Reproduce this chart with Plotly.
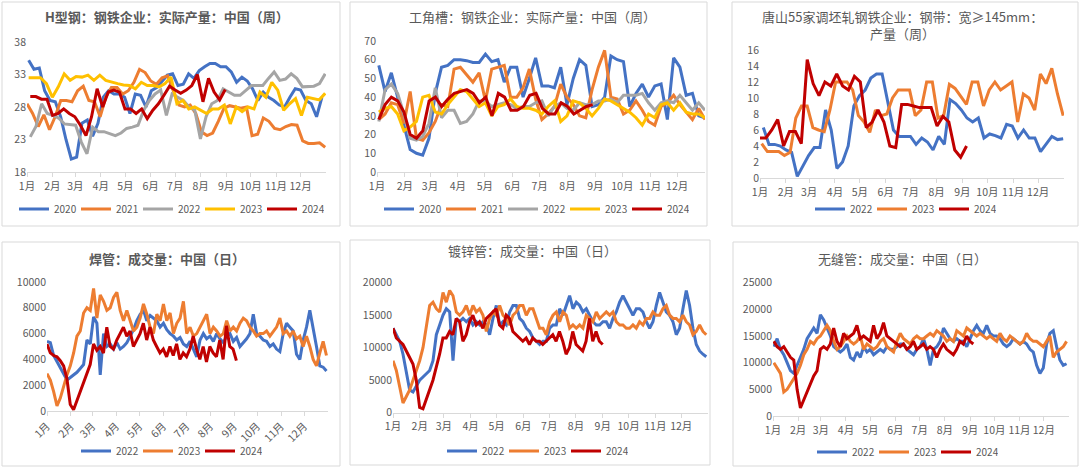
import plotly.graph_objects as go

W, H = 1080, 468
FONT = "Noto Sans CJK SC, Noto Sans, sans-serif"
TXT = "#595959"
C_BLUE, C_ORANGE, C_GRAY, C_YELLOW, C_RED = "#4472C4", "#ED7D31", "#A5A5A5", "#FFC000", "#C00000"

MONTH_START = [1, 32, 60, 91, 121, 152, 182, 213, 244, 274, 305, 335]
MONTH_LABELS = ["1月", "2月", "3月", "4月", "5月", "6月", "7月", "8月", "9月", "10月", "11月", "12月"]

# ---------------- H型钢 (weekly) ----------------
h_2020 = [35.2, 33.8, 34.0, 30.5, 29.0, 28.8, 26.5, 23.0, 20.0, 20.3, 25.5, 26.0, 23.5, 25.5, 29.5, 30.5, 30.0, 30.0,
          29.5, 27.0, 30.0, 29.8, 28.0, 30.5, 31.0, 32.0, 32.9, 33.1, 31.3, 31.5, 33.1, 32.4, 33.6, 34.2, 34.7, 34.7,
          34.2, 34.2, 33.4, 31.8, 32.6, 32.0, 30.8, 29.0, 30.3, 29.5, 29.0, 28.3, 28.0, 29.5, 30.8, 30.6, 29.0, 28.5,
          26.5, 29.5]
h_2021 = [28.5, 27.0, 25.0, 26.8, 24.5, 26.5, 29.0, 29.0, 28.8, 30.5, 31.2, 29.0, 28.8, 26.5, 29.5, 31.0, 31.0, 30.0,
          30.5, 31.8, 33.8, 33.3, 32.0, 31.5, 32.5, 32.8, 30.5, 28.3, 28.0, 28.3, 27.0, 24.2, 23.6, 24.0, 25.8, 27.8,
          28.2, 28.0, 27.8, 28.0, 23.6, 23.8, 26.3, 25.8, 24.7, 24.5, 25.0, 25.3, 25.2, 22.8, 22.4, 22.4, 22.5, 21.8]
h_2022 = [23.4, 25.0, 28.5, 27.0, 26.7, 26.3, 25.4, 25.3, 25.2, 22.6, 20.8, 24.9, 24.2, 24.2, 23.9, 23.6, 24.0, 24.7,
          24.9, 25.2, 27.5, 29.0, 30.0, 30.6, 26.7, 30.0, 29.5, 29.0, 28.0, 27.5, 23.1, 26.5, 28.5, 29.0, 30.8, 30.3,
          29.8, 29.8, 30.6, 31.3, 31.3, 31.3, 32.4, 33.4, 32.1, 32.3, 33.1, 32.4, 31.1, 31.1, 31.2, 31.6, 33.1]
h_2023 = [32.5, 32.5, 32.5, 31.6, 29.5, 31.1, 33.1, 32.1, 32.7, 32.6, 32.9, 32.1, 32.9, 32.1, 31.8, 31.6, 31.4, 31.3,
          30.8, 31.8, 31.3, 31.3, 31.1, 31.6, 32.6, 28.5, 29.0, 27.7, 28.0, 27.5, 27.0, 27.7, 27.7, 28.3, 25.4, 28.0,
          27.3, 28.0, 27.7, 30.3, 29.5, 31.8, 30.6, 27.5, 28.5, 29.3, 26.7, 29.5, 29.3, 29.1, 30.1]
h_2024 = [29.6, 29.6, 29.2, 29.2, 26.7, 27.0, 27.7, 27.0, 26.5, 25.2, 23.6, 26.5, 30.8, 28.0, 30.3, 30.6, 30.3, 27.7,
          27.7, 27.0, 27.7, 26.2, 27.5, 28.5, 29.8, 31.2, 30.6, 30.1, 30.6, 31.3, 33.0, 28.8, 32.4, 30.3, 29.1, 30.7]
h_spans = {"2020": (3, 361), "2021": (1, 365), "2022": (5, 365), "2023": (3, 365), "2024": (5, 243)}

# ---------------- 工角槽 (weekly) ----------------
g_2020 = [57, 43, 53, 40, 25, 12, 10, 9, 18, 42, 56, 57, 60, 60, 59.5, 58.5, 58.5, 63, 59, 60, 48, 56, 56, 40, 50, 61,
          46, 46, 45, 56, 36, 50, 60, 57, 35, 36, 40, 62, 60, 59, 35, 42, 47, 40, 46, 47, 28, 61, 56, 41, 42, 30, 29]
g_2021 = [28, 31, 37, 36, 26, 43, 18, 17, 21, 27, 36, 35, 55, 56, 52, 48, 53, 38, 55, 56, 57, 40, 40, 45, 55, 39, 28,
          31, 35, 47, 40, 36, 30, 29, 44, 56, 65, 40, 39, 31, 33, 38, 33, 27, 25, 35, 37, 41, 36, 32, 28, 34, 28]
g_2022 = [27, 44, 47, 42, 31, 18, 17, 19, 26, 45, 29, 33, 33, 26, 27, 31, 38, 38, 35, 36, 37, 36, 34, 35, 35, 37, 38,
          30, 35, 37, 34, 33, 37, 36, 36, 38, 38, 39, 37, 41, 41, 41, 42, 37, 33, 37, 38, 37, 41, 37, 33, 37, 33]
g_2023 = [32, 34, 35, 31, 22, 24, 27, 40, 41, 32, 31, 36, 40, 44, 43, 39, 35, 37, 30, 35, 36, 39, 35, 34, 34, 33, 31,
          35, 38, 27, 30, 38, 37, 34, 30, 34, 39, 38, 36, 34, 32, 29, 25, 31, 29, 36, 37, 33, 37, 32, 31, 31, 29]
g_2024 = [28, 36, 40, 38, 32, 20, 18, 22, 38, 40, 35, 39, 42, 43, 44, 42, 37, 40, 30, 42, 40, 33, 33, 35, 41, 42, 34,
          31, 31, 37, 35, 31, 33, 35, 36]
g_spans = {"2020": (3, 366), "2021": (3, 366), "2022": (3, 366), "2023": (3, 366), "2024": (3, 241)}

# ---------------- 唐山55家 钢带 (weekly) ----------------
t_2022 = [6.3, 4.2, 4.2, 4.0, 3.5, 3.2, 0.2, 1.5, 2.8, 3.8, 3.8, 8.5, 6.0, 1.2, 2.0, 4.0, 9.0, 10.3, 11.0, 12.5, 13.0,
          13.0, 9.5, 6.0, 5.2, 5.2, 5.2, 4.2, 5.0, 4.5, 3.5, 5.2, 4.2, 9.8, 9.3, 8.5, 7.5, 7.0, 7.5, 5.0, 5.5, 5.3, 5.0,
          6.7, 6.5, 5.0, 6.0, 5.0, 5.0, 3.3, 4.2, 5.2, 4.8, 4.9]
t_2023 = [4.3, 3.3, 3.3, 3.3, 2.8, 3.2, 7.5, 9.0, 9.0, 6.3, 6.0, 5.8, 8.5, 12.0, 12.0, 12.0, 11.0, 7.8, 7.0, 5.7, 8.5,
          7.8, 8.0, 10.0, 11.0, 11.0, 11.0, 7.8, 8.5, 12.0, 12.0, 7.5, 7.8, 11.7, 11.2, 10.2, 9.2, 12.0, 12.0, 9.0, 11.0,
          12.0, 11.0, 11.5, 12.0, 7.0, 10.5, 10.0, 8.5, 13.0, 11.8, 13.7, 10.5, 7.8]
t_2024 = [5.0, 5.0, 6.0, 7.3, 4.0, 5.8, 5.8, 4.3, 14.8, 11.8, 10.3, 12.0, 11.5, 13.0, 11.5, 11.0, 12.7, 12.0, 6.3, 7.0,
          8.5, 7.0, 4.0, 3.8, 9.2, 9.2, 9.0, 8.8, 8.8, 8.8, 6.5, 7.7, 7.0, 3.5, 2.6, 4.0]
t_spans = {"2022": (5, 365), "2023": (3, 365), "2024": (1, 249)}

# ---------------- 焊管 成交量 (daily) ----------------
w_2022 = [5400, 5300, 4300, 3800, 3300, 2800, 2400, 2600, 2800, 3000, 3300, 3600, 5500, 5200, 7300, 6800, 2800, 6000,
          5000, 5200, 4800, 5300, 4800, 5000, 5300, 5800, 6300, 7000, 7500, 7800, 7000, 7400, 7200, 7000, 6500, 6800,
          6300, 6000, 5800, 5500, 5700, 5200, 5000, 5400, 4800, 4200, 5500, 6000, 5600, 5800, 5400, 6000, 5600, 5300,
          5800, 6000, 5400, 5700, 5000, 5300, 5600, 6000, 7500, 6000, 5800, 5500, 5400, 5000, 5200, 4800, 4600, 6000,
          6800, 6500, 6200, 4400, 4000, 5500, 6500, 7800, 6500, 5000, 3500, 3400, 3100]
w_2023 = [2900, 2400, 1500, 400, 1000, 2000, 2800, 3500, 4500, 5800, 6200, 7600, 8000, 7800, 9500, 7200, 9000, 8500,
          7800, 8000, 8800, 9200, 7800, 7000, 7800, 7000, 6200, 6500, 7200, 8300, 7500, 6500, 6000, 7500, 7000, 8300,
          7000, 7600, 6000, 6800, 7200, 8500, 6000, 6500, 5800, 6000, 6500, 7000, 7500, 6000, 6500, 6200, 5800, 6000,
          7000, 6200, 6500, 6200, 6800, 7200, 7000, 6500, 6200, 5800, 6000, 6000, 6200, 5800, 6200, 6500, 7200, 6000,
          6200, 5800, 6200, 5600, 5800, 5000, 5800, 5000, 4000, 3500, 4500, 5400, 4300]
w_2024 = [5200, 4500, 4300, 4200, 3900, 3500, 2500, 500, 100, 800, 1500, 2300, 3000, 3600, 5200, 4700, 5000, 4500,
          6500, 5000, 4800, 5500, 6000, 6500, 5800, 6200, 5000, 5500, 6000, 6800, 5500, 6500, 5500, 5000, 4500, 4800,
          4200, 5000, 4300, 5200, 4000, 4500, 4200, 4800, 5800, 4800, 4000, 5000, 3800, 5000, 4500, 4200, 5500, 4000,
          6600, 5000, 4800, 3900]
w_spans = {"2022": (1, 364), "2023": (1, 364), "2024": (1, 247)}

# ---------------- 镀锌管 成交量 (daily) ----------------
z_2022 = [13000, 12000, 11000, 9000, 6000, 3500, 3200, 4200, 5000, 5500, 6000, 6500, 8000, 12000, 13500, 15000, 16000,
          15500, 8000, 14500, 14000, 14500, 14000, 14500, 13500, 14000, 13500, 14000, 13500, 12000, 14500, 16500, 13500,
          14000, 13500, 15500, 16500, 16500, 14500, 14000, 13000, 12500, 11500, 11000, 10500, 11000, 11000, 13000,
          13500, 13500, 16000, 15000, 16500, 18000, 16000, 17000, 16500, 15500, 16000, 15000, 14000, 13500, 13500,
          14000, 14000, 13000, 14500, 15500, 17000, 18000, 17000, 16000, 15000, 16000, 16000, 15500, 14000, 13000,
          14000, 16500, 18500, 17000, 15500, 15000, 14000, 12000, 13000, 16000, 18800, 16500, 13000, 10500, 9500,
          9000, 8600]
z_2023 = [8000, 6500, 4000, 1500, 2500, 3500, 5000, 6500, 8000, 10000, 13500, 16500, 17000, 16000, 15500, 18500,
          17000, 18800, 18000, 15500, 15000, 15500, 16500, 15000, 16500, 15500, 16000, 15000, 12500, 14500, 15500,
          15000, 16500, 15000, 14500, 13500, 15000, 15500, 16500, 16500, 15000, 16000, 16000, 14500, 13000, 13000,
          12000, 14000, 15000, 15500, 14000, 15500, 15000, 13000, 13500, 13000, 13500, 13000, 15000, 14500, 14000,
          15500, 14500, 15000, 15500, 15000, 15500, 14000, 13500, 13500, 13000, 13000, 13500, 13000, 14000, 13500,
          14500, 14500, 15500, 15000, 15000, 16000, 16500, 15000, 14500, 14500, 14000, 15000, 14000, 13500, 12000,
          12500, 13500, 12500, 12000]
z_2024 = [13000, 11500, 11000, 10500, 9500, 8500, 7500, 5000, 800, 600, 2000, 3500, 5000, 7000, 9000, 11500, 11500,
          12500, 12000, 14500, 14000, 11000, 12000, 14000, 15000, 13500, 14000, 13000, 14500, 15000, 15500, 16000,
          13500, 13000, 15000, 14500, 12500, 12000, 11500, 11000, 11500, 10500, 11500, 11000, 11000, 10500, 11000,
          11500, 12000, 11000, 12500, 11000, 9000, 10000, 12500, 10500, 10000, 9500, 11000, 14500, 11000, 12500,
          11000, 10500]
z_spans = {"2022": (1, 364), "2023": (1, 364), "2024": (1, 244)}

# ---------------- 无缝管 成交量 (daily) ----------------
s_2022 = [13000, 14500, 12500, 11500, 10000, 8500, 8000, 9500, 11000, 12500, 14500, 15500, 16500, 15500, 19000, 18000,
          16500, 15000, 13000, 12500, 12000, 12500, 13500, 11000, 10500, 12000, 11000, 13000, 12000, 12500, 11500,
          12000, 12500, 12000, 13000, 12500, 12500, 13000, 13500, 13500, 12500, 12000, 11500, 12500, 13000, 14500,
          12500, 9500, 12500, 13000, 14000, 16500, 15500, 14500, 14000, 14500, 14000, 14000, 13000, 14500, 16000,
          17000, 16000, 15500, 17000, 15500, 15000, 15000, 14500, 13500, 13000, 13500, 14500, 14000, 13500, 14000,
          13500, 12500, 12000, 9500, 8000, 9000, 13500, 15500, 16000, 13000, 10500, 9500, 9800]
s_2023 = [10000, 9000, 8000, 4500, 5000, 6000, 7000, 8000, 9500, 11500, 12500, 14000, 13500, 14500, 15000, 16000, 17000,
          16000, 14000, 12500, 13000, 14000, 15000, 14000, 13500, 14000, 15000, 12500, 13500, 13000, 12500, 13000,
          14000, 14500, 13000, 12500, 12000, 14000, 15500, 14500, 14000, 13500, 14500, 15000, 14500, 14500, 15000,
          15500, 15000, 16000, 15500, 15000, 14000, 14500, 14000, 16000, 15500, 15000, 16500, 16000, 15500, 15000,
          15500, 15000, 14500, 15000, 14500, 14000, 15500, 14500, 14000, 15000, 14500, 14000, 13500, 14000, 15500,
          14500, 14000, 14000, 13500, 13000, 14000, 15000, 11000, 12000, 12500, 13000, 14000]
s_2024 = [14000, 13000, 12500, 13000, 12000, 11000, 10500, 5000, 1500, 3000, 4500, 6000, 7500, 8500, 12500, 13000,
          12500, 13500, 16500, 14000, 13000, 15500, 14500, 15000, 15500, 17000, 14500, 15000, 14500, 14000, 17000,
          14500, 15500, 17500, 15000, 14500, 14000, 13500, 13000, 13500, 12500, 13000, 14000, 12500, 13000, 13500,
          12500, 13000, 12500, 11000, 12500, 13500, 12500, 12000, 11500, 12500, 14000, 13500, 15000, 14000, 13500]
s_spans = {"2022": (2, 363), "2023": (2, 363), "2024": (2, 248)}


def days(span, n):
    a, b = span
    step = (b - a) / (n - 1)
    return [a + i * step for i in range(n)]


def fx(p):
    return p / W


def fy(p):
    return 1 - p / H


panels = [
    dict(title="<b>H型钢：钢铁企业：实际产量：中国（周）</b>", tpos=(167, 17), box=(2, 2, 340, 226),
         xpx=(27, 326), ypx=(42, 172), yr=(18, 38), yt=[18, 23, 28, 33, 38], leg=(169, 209), angle=0,
         series=[("2020", C_BLUE, h_2020, h_spans["2020"]), ("2021", C_ORANGE, h_2021, h_spans["2021"]),
                 ("2022", C_GRAY, h_2022, h_spans["2022"]), ("2023", C_YELLOW, h_2023, h_spans["2023"]),
                 ("2024", C_RED, h_2024, h_spans["2024"])]),
    dict(title="工角槽：钢铁企业：实际产量：中国（周）", tpos=(532, 17), box=(350, 2, 707, 226),
         xpx=(377, 705), ypx=(41, 172), yr=(0, 70), yt=[0, 10, 20, 30, 40, 50, 60, 70], leg=(534, 209), angle=0,
         series=[("2020", C_BLUE, g_2020, g_spans["2020"]), ("2021", C_ORANGE, g_2021, g_spans["2021"]),
                 ("2022", C_GRAY, g_2022, g_spans["2022"]), ("2023", C_YELLOW, g_2023, g_spans["2023"]),
                 ("2024", C_RED, g_2024, g_spans["2024"])]),
    dict(title="唐山55家调坯轧钢铁企业：钢带：宽≥145mm：<br>产量（周）", tpos=(902, 25), box=(732, 2, 1078, 226),
         xpx=(760, 1064), ypx=(50, 178), yr=(0, 16), yt=[0, 2, 4, 6, 8, 10, 12, 14, 16], leg=(903, 209), angle=0,
         series=[("2022", C_BLUE, t_2022, t_spans["2022"]), ("2023", C_ORANGE, t_2023, t_spans["2023"]),
                 ("2024", C_RED, t_2024, t_spans["2024"])]),
    dict(title="<b>焊管：成交量：中国（日）</b>", tpos=(167, 258), box=(2, 242, 340, 466),
         xpx=(47, 328), ypx=(282, 411), yr=(0, 10000), yt=[0, 2000, 4000, 6000, 8000, 10000], leg=(169, 451),
         angle=-45,
         series=[("2022", C_BLUE, w_2022, w_spans["2022"]), ("2023", C_ORANGE, w_2023, w_spans["2023"]),
                 ("2024", C_RED, w_2024, w_spans["2024"])]),
    dict(title="镀锌管：成交量：中国（日）", tpos=(532, 250), box=(350, 240, 710, 465),
         xpx=(393, 708), ypx=(282.7, 412.7), yr=(0, 20000), yt=[0, 5000, 10000, 15000, 20000], leg=(535, 451),
         angle=0,
         series=[("2022", C_BLUE, z_2022, z_spans["2022"]), ("2023", C_ORANGE, z_2023, z_spans["2023"]),
                 ("2024", C_RED, z_2024, z_spans["2024"])]),
    dict(title="无缝管：成交量：中国（日）", tpos=(902, 258), box=(733, 242, 1078, 466),
         xpx=(773, 1069), ypx=(282.7, 416), yr=(0, 25000), yt=[0, 5000, 10000, 15000, 20000, 25000],
         leg=(905, 452), angle=0,
         series=[("2022", C_BLUE, s_2022, s_spans["2022"]), ("2023", C_ORANGE, s_2023, s_spans["2023"]),
                 ("2024", C_RED, s_2024, s_spans["2024"])]),
]

fig = go.Figure()
layout = dict(width=W, height=H, margin=dict(l=0, r=0, t=0, b=0, pad=0, autoexpand=False), autosize=False,
              paper_bgcolor="white", plot_bgcolor="white", font=dict(family=FONT, color=TXT, size=10),
              showlegend=True)
shapes, annotations = [], []

for i, p in enumerate(panels, start=1):
    sfx = "" if i == 1 else str(i)
    xa, ya = f"x{sfx}", f"y{sfx}"
    leg = "legend" if i == 1 else f"legend{i}"
    for name, color, vals, span in p["series"]:
        fig.add_trace(go.Scatter(x=days(span, len(vals)), y=vals, mode="lines", name=name,
                                 line=dict(color=color, width=3), xaxis=xa, yaxis=ya, legend=leg,
                                 hoverinfo="skip"))
    layout[f"xaxis{sfx}"] = dict(domain=[fx(p["xpx"][0]), fx(p["xpx"][1])], anchor=ya, range=[1, 366],
                                 tickmode="array", tickvals=MONTH_START, ticktext=MONTH_LABELS,
                                 tickangle=p["angle"], showgrid=False, zeroline=False, showline=True,
                                 linecolor="#D9D9D9", linewidth=1, ticks="outside", ticklen=4,
                                 tickcolor="#D9D9D9", tickfont=dict(size=10.5, color=TXT, family=FONT),
                                 automargin=False, fixedrange=True)
    layout[f"yaxis{sfx}"] = dict(domain=[fy(p["ypx"][1]), fy(p["ypx"][0])], anchor=xa, range=list(p["yr"]),
                                 tickmode="array", tickvals=p["yt"], ticktext=[str(v) for v in p["yt"]],
                                 showgrid=False, zeroline=False,
                                 showline=False, ticks="", tickfont=dict(size=10.5, color=TXT, family=FONT),
                                 automargin=False, fixedrange=True)
    layout[leg] = dict(orientation="h", x=fx(p["leg"][0]), y=fy(p["leg"][1]), xanchor="center",
                       yanchor="middle", font=dict(size=10, color=TXT, family=FONT),
                       bgcolor="rgba(0,0,0,0)", itemwidth=30, entrywidth=17, entrywidthmode="pixels",
                       itemclick=False, itemdoubleclick=False)
    x0, y0, x1, y1 = p["box"]
    shapes.append(dict(type="rect", xref="paper", yref="paper", x0=fx(x0), x1=fx(x1), y0=fy(y1), y1=fy(y0),
                       line=dict(color="#D9D9D9", width=1), fillcolor="rgba(0,0,0,0)", layer="below"))
    annotations.append(dict(text=p["title"], xref="paper", yref="paper", x=fx(p["tpos"][0]), y=fy(p["tpos"][1]),
                            xanchor="center", yanchor="middle", showarrow=False,
                            font=dict(size=13, color=TXT, family=FONT)))

layout["shapes"] = shapes
layout["annotations"] = annotations
fig.update_layout(**layout)
fig.write_html("out.html", config={"displayModeBar": False},
               post_script="document.body.style.margin='0';document.body.style.overflow='hidden';")
